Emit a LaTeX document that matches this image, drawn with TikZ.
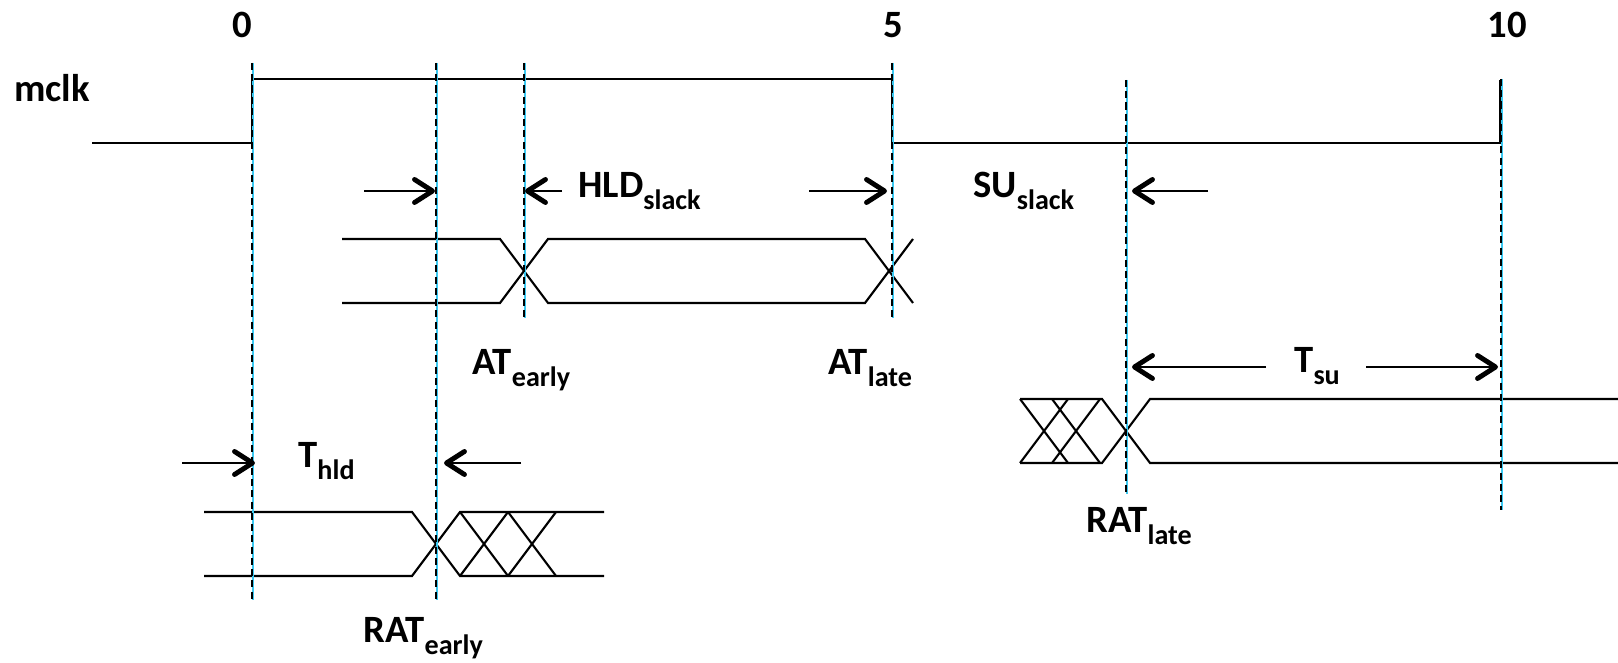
\documentclass[tikz,border=0pt]{standalone}
\usepackage{fontspec}
\setmainfont{Carlito}
\usetikzlibrary{arrows.meta}
\definecolor{markercyan}{RGB}{60,200,240}
\newcommand{\sigsub}[2]{#1\raisebox{-6.5pt}{\fontsize{16}{16}\selectfont #2}}
\tikzset{
    wave/.style={line width=1.2pt,line join=miter},
    markerbase/.style={markercyan,line width=0.7pt},
    marker/.style={black,line width=1.1pt,dash pattern=on 4pt off 2.4pt},
    arrow/.style={-{Straight Barb[length=3.6mm,width=4.6mm,line width=2.8pt,round]},line width=1.2pt},
    lbl/.style={anchor=base west,inner sep=0pt,font=\fontsize{22}{24}\selectfont\bfseries}
}

\begin{document}
\begin{tikzpicture}
    \useasboundingbox (0,0) rectangle (32.36,13.26);

    % clock
    \draw[wave] (1.84,10.40) -- (5.04,10.40) -- (5.04,11.68) -- (17.84,11.68)
        -- (17.84,10.40) -- (30.00,10.40) -- (30.00,11.66);

    % launched data (AT)
    \draw[wave] (6.84,8.48) -- (10.00,8.48) -- (10.96,7.20) -- (17.30,7.20) -- (18.26,8.48);
    \draw[wave] (6.84,7.20) -- (10.00,7.20) -- (10.96,8.48) -- (17.30,8.48) -- (18.26,7.20);

    % hold window data
    \draw[wave] (4.08,3.02) -- (8.24,3.02) -- (9.20,1.74) -- (12.08,1.74);
    \draw[wave] (4.08,1.74) -- (8.24,1.74) -- (9.20,3.02) -- (12.08,3.02);
    \foreach \c in {9.68,10.64}
        \draw[wave] (\c-0.48,3.02) -- (\c+0.48,1.74) (\c-0.48,1.74) -- (\c+0.48,3.02);

    % setup window data
    \draw[wave] (20.40,5.28) -- (22.04,5.28) -- (23.00,4.00) -- (32.36,4.00);
    \draw[wave] (20.40,4.00) -- (22.04,4.00) -- (23.00,5.28) -- (32.36,5.28);
    \foreach \c in {20.88,21.52}
        \draw[wave] (\c-0.48,5.28) -- (\c+0.48,4.00) (\c-0.48,4.00) -- (\c+0.48,5.28);

    % time markers
    \foreach \x/\ytop/\ybot in {5.04/12.00/1.26, 8.72/12.00/1.26, 10.48/12.00/6.90,
            17.84/12.00/6.90, 22.52/11.66/3.38, 30.02/11.68/3.06} {
        \draw[markerbase] (\x+0.02,\ytop) -- (\x+0.02,\ybot);
        \draw[marker] (\x,\ytop) -- (\x,\ybot);
    }

    % slack / constraint arrows
    \draw[arrow] (7.28,9.44) -- (8.70,9.44);
    \draw[arrow] (11.24,9.44) -- (10.50,9.44);
    \draw[arrow] (16.18,9.44) -- (17.74,9.44);
    \draw[arrow] (24.16,9.44) -- (22.64,9.44);
    \draw[arrow] (3.64,4.00) -- (5.10,4.00);
    \draw[arrow] (10.42,4.00) -- (8.88,4.00);
    \draw[arrow] (25.32,5.92) -- (22.64,5.92);
    \draw[arrow] (27.32,5.92) -- (29.96,5.92);

    % labels
    \node[lbl] (clk) at (0.28,11.22) {mclk};
    \node[lbl,anchor=base] (t0) at (4.84,12.50) {0};
    \node[lbl,anchor=base] (t5) at (17.86,12.50) {5};
    \node[lbl,anchor=base] (t10) at (30.14,12.50) {10};
    \node[lbl] (hldslack) at (11.56,9.30) {\sigsub{HLD}{slack}};
    \node[lbl] (suslack) at (19.46,9.30) {\sigsub{SU}{slack}};
    \node[lbl] (atearly) at (9.44,5.76) {\sigsub{AT}{early}};
    \node[lbl] (atlate) at (16.56,5.76) {\sigsub{AT}{late}};
    \node[lbl] (thld) at (5.96,3.90) {\sigsub{T}{hld}};
    \node[lbl] (tsu) at (25.88,5.80) {\sigsub{T}{su}};
    \node[lbl] (ratlate) at (21.72,2.60) {\sigsub{RAT}{late}};
    \node[lbl] (ratearly) at (7.26,0.40) {\sigsub{RAT}{early}};
\end{tikzpicture}
\end{document}
